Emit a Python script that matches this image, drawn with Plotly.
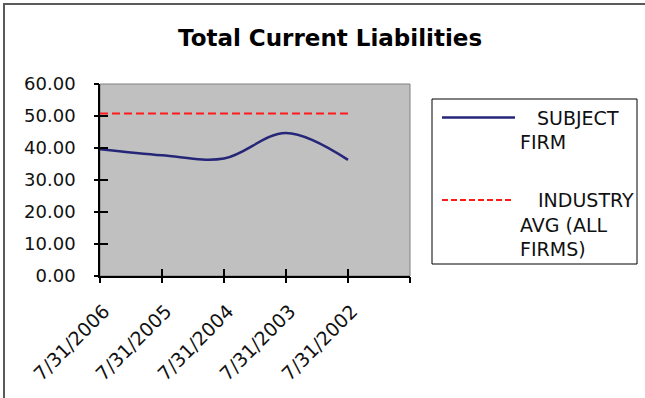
import plotly.graph_objects as go

# Fiscal year-end dates (most recent first) and balance-sheet values
dates = ["7/31/2006", "7/31/2005", "7/31/2004", "7/31/2003", "7/31/2002"]
subject_firm = [39.6, 37.7, 36.7, 44.7, 36.3]
industry_avg = [50.8, 50.8, 50.8, 50.8, 50.8]
y_ticks = [0, 10, 20, 30, 40, 50, 60]

W, H = 645, 398
L, R, T, B = 100, 410, 84, 276          # plot-area pixel box

def px(x):
    return (x - L) / (R - L)

def py(y):
    return (B - y) / (B - T)

FONT = "DejaVu Sans"
NAVY = "#262679"
RED = "#ff1a1a"
CLEAR = "rgba(0,0,0,0)"

xpos = list(range(len(dates)))
tickvals_x = xpos + [len(dates)]
ticktext_x = dates + [""]
x_range = [0, len(dates)]
y_range = [0, 60]

fig = go.Figure()
fig.add_trace(go.Scatter(
    x=xpos, y=subject_firm, mode="lines", name="SUBJECT FIRM",
    line=dict(color=NAVY, width=2.5, shape="spline"), showlegend=False,
))
fig.add_trace(go.Scatter(
    x=xpos, y=industry_avg, mode="lines", name="INDUSTRY AVG (ALL FIRMS)",
    line=dict(color=RED, width=2, dash="8px,4px"), showlegend=False,
))
# blank traces that register the tick-only companion axes
for xa, ya in (("x2", "y2"), ("x3", "y3")):
    fig.add_trace(go.Scatter(x=[None], y=[None], xaxis=xa, yaxis=ya,
                             mode="lines", showlegend=False, hoverinfo="skip"))


def tick_axis(vals, rng, where, length, **kw):
    """Label-less companion axis that only draws tick marks."""
    return dict(range=rng, tickvals=vals, ticks=where, ticklen=length,
                tickwidth=1.5, tickcolor="black", showticklabels=False,
                showline=False, showgrid=False, zeroline=False,
                fixedrange=True, **kw)


fig.update_layout(
    width=W, height=H,
    margin=dict(l=L, r=W - R, t=T, b=H - B, pad=0),
    paper_bgcolor="white",
    plot_bgcolor="#c0c0c0",
    font=dict(family=FONT, size=17, color="#111"),
    # labelled axes: clear spacer ticks push the labels away from the plot
    xaxis=dict(
        range=x_range, tickvals=tickvals_x, ticktext=ticktext_x,
        tickangle=-45, ticks="outside", ticklen=15, tickcolor=CLEAR,
        ticklabelshift=4,
        showline=True, linecolor="black", linewidth=1.5,
        showgrid=False, zeroline=False, fixedrange=True,
        tickfont=dict(size=19),
    ),
    yaxis=dict(
        range=y_range, tickvals=y_ticks, tickformat=".2f",
        ticks="outside", ticklen=19, tickcolor=CLEAR,
        showline=True, linecolor="black", linewidth=1.5,
        showgrid=False, zeroline=False, fixedrange=True,
        tickfont=dict(size=18),
    ),
    # tick marks crossing the axis lines
    xaxis2=tick_axis(tickvals_x, x_range, "outside", 6, overlaying="x", anchor="y", side="bottom"),
    xaxis3=tick_axis(tickvals_x, x_range, "inside", 7, overlaying="x", anchor="y", side="bottom"),
    yaxis2=tick_axis(y_ticks, y_range, "outside", 5, overlaying="y", anchor="x", side="left"),
    yaxis3=tick_axis(y_ticks, y_range, "inside", 8, overlaying="y", anchor="x", side="left"),
    showlegend=False,
)

shapes = [
    # chart frame
    dict(type="rect", xref="paper", yref="paper",
         x0=px(4), x1=px(700), y0=py(450), y1=py(4),
         line=dict(color="#5a5a5a", width=2), fillcolor=CLEAR, layer="below"),
    # plot-area border
    dict(type="rect", xref="paper", yref="paper",
         x0=0, x1=1, y0=0, y1=1,
         line=dict(color="#808080", width=1), fillcolor=CLEAR, layer="below"),
    # legend box
    dict(type="rect", xref="paper", yref="paper",
         x0=px(432), x1=px(637), y0=py(264), y1=py(99),
         line=dict(color="black", width=1), fillcolor="white"),
    # legend keys
    dict(type="line", xref="paper", yref="paper",
         x0=px(442), x1=px(515), y0=py(117.5), y1=py(117.5),
         line=dict(color=NAVY, width=2.5)),
    dict(type="line", xref="paper", yref="paper",
         x0=px(442), x1=px(514), y0=py(200), y1=py(200),
         line=dict(color=RED, width=2, dash="6px,3px")),
]
fig.update_layout(shapes=shapes)

annotations = [
    dict(text="<b>Total Current Liabilities</b>", x=px(329.5), y=py(38),
         font=dict(family=FONT, size=23, color="black")),
    dict(text="SUBJECT", x=px(536), y=py(118)),
    dict(text="FIRM", x=px(519), y=py(142)),
    dict(text="INDUSTRY", x=px(537), y=py(200)),
    dict(text="AVG (ALL", x=px(519), y=py(224.5)),
    dict(text="FIRMS)", x=px(519), y=py(248.5)),
]
for a in annotations:
    a.setdefault("font", dict(family=FONT, size=19, color="#111"))
    a.update(xref="paper", yref="paper", showarrow=False,
             xanchor="center" if a["text"].startswith("<b>") else "left",
             yanchor="middle", borderpad=0)
fig.update_layout(annotations=annotations)

fig.write_html("out.html")
